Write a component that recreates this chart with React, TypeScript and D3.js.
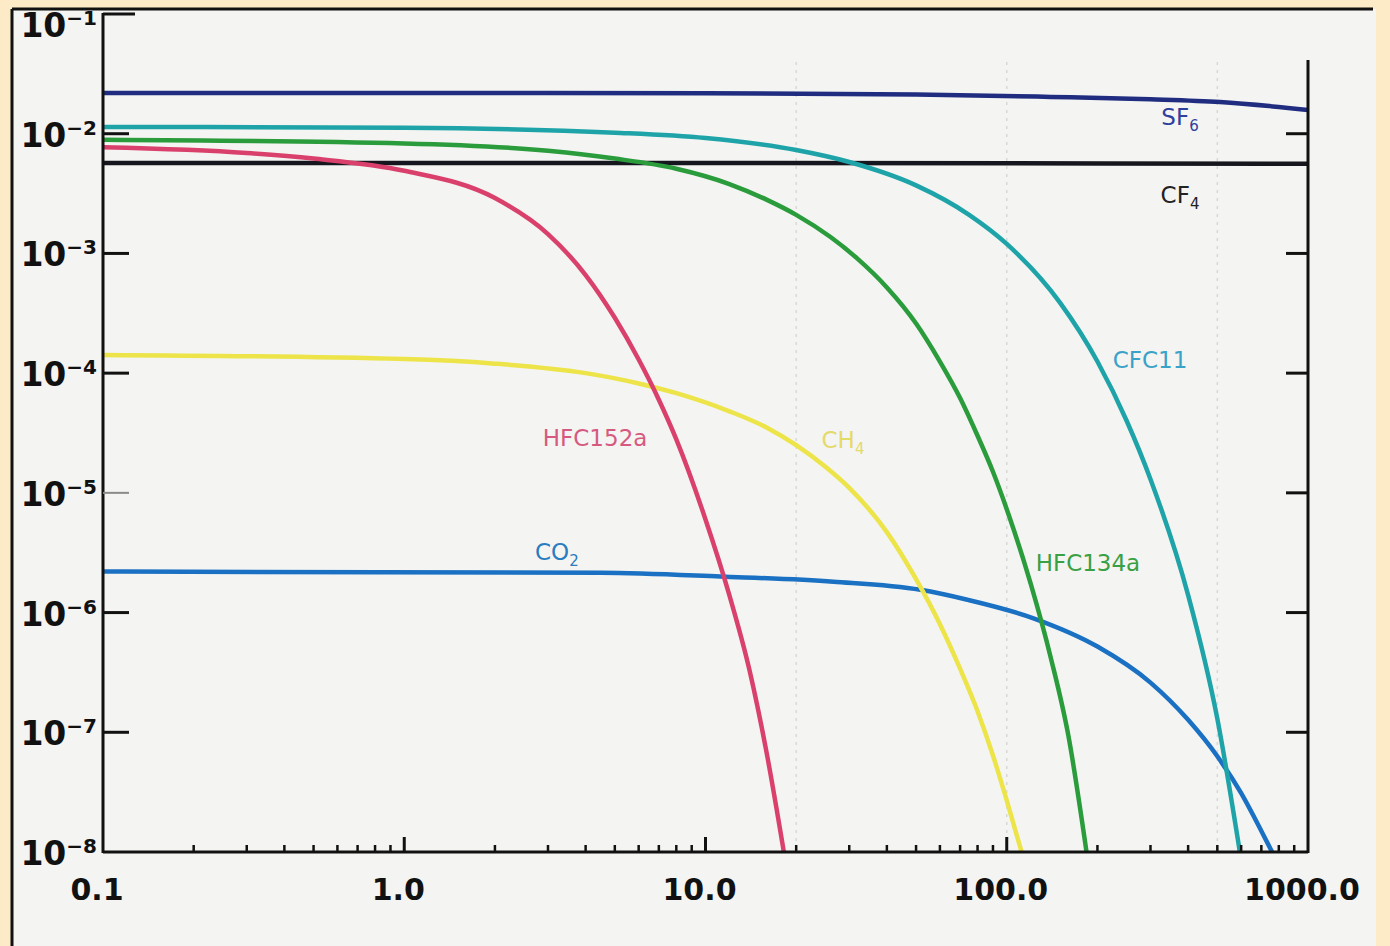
import * as d3 from "d3";
import React, { useEffect, useRef } from "react";

// axis ticks
const xTicks = [0.1, 1, 10, 100, 1000];
const xTickLabels = ["0.1", "1.0", "10.0", "100.0", "1000.0"];
const yTicks = [1e-1, 1e-2, 1e-3, 1e-4, 1e-5, 1e-6, 1e-7, 1e-8];
const yTickExp = ["−1", "−2", "−3", "−4", "−5", "−6", "−7", "−8"];
const faintGridX = [20, 100, 500];

// series values: [time, fraction remaining]
const sf6 = [[0.1, 0.0219], [1, 0.0219], [10, 0.0218], [50, 0.0213], [140, 0.0203], [300, 0.0194], [510, 0.0184], [1000, 0.0158]];
const cf4 = [[0.1, 0.0057], [10, 0.0057], [1000, 0.0056]];
const cfc11 = [[0.1, 0.0114], [1, 0.0112], [5, 0.0102], [10, 0.0092], [20, 0.0073], [30, 0.0058], [50, 0.0037], [75, 0.0021], [100, 0.0012], [150, 3.9e-4], [200, 1.25e-4], [250, 4e-5], [300, 1.3e-5], [400, 1.4e-6], [500, 1.3e-7], [594, 1e-8]];
const hfc134a = [[0.1, 0.0089], [1, 0.0083], [3, 0.0072], [5, 0.0062], [8, 0.0051], [12, 0.0038], [16, 0.0028], [20, 0.0021], [26, 0.00137], [32, 9e-4], [40, 5.2e-4], [50, 2.6e-4], [60, 1.25e-4], [70, 6.2e-5], [80, 3e-5], [90, 1.5e-5], [100, 7.3e-6], [120, 1.75e-6], [140, 4.2e-7], [160, 9.5e-8], [184, 1e-8]];
const hfc152a = [[0.1, 0.0077], [0.3, 0.0069], [0.5, 0.0062], [1, 0.0049], [2, 0.0029], [3, 0.00145], [4, 6.6e-4], [5, 2.9e-4], [6, 1.3e-4], [7, 6e-5], [8, 2.8e-5], [10, 6e-6], [12, 1.4e-6], [14, 3.3e-7], [16, 6.5e-8], [18.2, 1e-8]];
const ch4 = [[0.1, 1.42e-4], [1, 1.31e-4], [2, 1.2e-4], [4, 1.0e-4], [6, 8.2e-5], [8, 6.8e-5], [12, 4.8e-5], [16, 3.5e-5], [20, 2.5e-5], [25, 1.65e-5], [30, 1.1e-5], [40, 4.7e-6], [50, 1.9e-6], [60, 8e-7], [70, 3.4e-7], [80, 1.5e-7], [90, 6.4e-8], [100, 2.7e-8], [112, 1e-8]];
const co2 = [[0.1, 2.2e-6], [4.5, 2.15e-6], [11.2, 2.0e-6], [26.6, 1.81e-6], [51.7, 1.55e-6], [74, 1.28e-6], [122, 9e-7], [200, 5.2e-7], [300, 2.6e-7], [400, 1.27e-7], [500, 6.3e-8], [600, 3.1e-8], [700, 1.5e-8], [760, 1e-8]];

const series = [
  { name: "CF4", data: cf4, color: "#16161e" },
  { name: "SF6", data: sf6, color: "#1f2c80" },
  { name: "CO2", data: co2, color: "#1a70c2" },
  { name: "CH4", data: ch4, color: "#ece448" },
  { name: "HFC152a", data: hfc152a, color: "#d9416c" },
  { name: "HFC134a", data: hfc134a, color: "#2a9c3c" },
  { name: "CFC11", data: cfc11, color: "#1ea4a8" },
];

// label anchors (data coords) for the in-plot annotations
const labels = [
  { text: "SF", sub: "6", x: 376, y: 0.0138, color: "#2f3f9c" },
  { text: "CF", sub: "4", x: 376, y: 0.00308, color: "#222222" },
  { text: "CFC11", sub: "", x: 299, y: 1.29e-4, color: "#3aa2c8" },
  { text: "HFC152a", sub: "", x: 4.3, y: 2.87e-5, color: "#d65a80" },
  { text: "CH", sub: "4", x: 28.6, y: 2.76e-5, color: "#e4da6a" },
  { text: "CO", sub: "2", x: 3.21, y: 3.2e-6, color: "#2a7cc0" },
  { text: "HFC134a", sub: "", x: 186, y: 2.6e-6, color: "#3aa044" },
];

export default function App() {
  const svgRef = useRef<SVGSVGElement>(null);
  const W = 1390;
  const H = 946;

  useEffect(() => {
    document.body.style.margin = "0";
    const svg = d3.select(svgRef.current).attr("width", W).attr("height", H);
    svg.selectAll("*").remove();

    const left = 103, right = 1308, top = 14, bottom = 852;
    const x = d3.scaleLog().domain([0.1, 1000]).range([left, right]);
    const y = d3.scaleLog().domain([1e-8, 1e-1]).range([bottom, top]);
    const ink = "#111";

    // scanned page background + frame
    svg.append("rect").attr("width", W).attr("height", H).attr("fill", "#fcebc6");
    svg.append("rect").attr("x", 12).attr("y", 9).attr("width", 1364).attr("height", H - 9).attr("fill", "#f4f4f2");
    svg.append("line").attr("x1", 12).attr("x2", 1373).attr("y1", 9).attr("y2", 9).attr("stroke", ink).attr("stroke-width", 3);
    svg.append("line").attr("x1", 12).attr("x2", 12).attr("y1", 9).attr("y2", H).attr("stroke", ink).attr("stroke-width", 3);

    // faint vertical scan lines
    svg.append("g").selectAll("line")
      .data(faintGridX)
      .enter()
      .append("line")
      .attr("x1", (d) => x(d))
      .attr("x2", (d) => x(d))
      .attr("y1", 62)
      .attr("y2", bottom)
      .attr("stroke", "#d8d8d6")
      .attr("stroke-width", 1.5)
      .attr("stroke-dasharray", "3,5");

    // curves
    const clipId = "plot-clip";
    svg.append("clipPath").attr("id", clipId)
      .append("rect").attr("x", left).attr("y", top).attr("width", right - left).attr("height", bottom - top);

    const line = d3.line<number[]>()
      .x((d) => x(d[0]))
      .y((d) => y(d[1]))
      .curve(d3.curveMonotoneX);

    svg.append("g").attr("clip-path", `url(#${clipId})`)
      .selectAll("path")
      .data(series)
      .enter()
      .append("path")
      .attr("d", (d) => line(d.data))
      .attr("fill", "none")
      .attr("stroke", (d) => d.color)
      .attr("stroke-width", 4.5)
      .attr("stroke-linecap", "round");

    // axes lines
    const axes = svg.append("g").attr("stroke", ink).attr("stroke-width", 3);
    axes.append("line").attr("x1", left).attr("x2", left).attr("y1", top - 1).attr("y2", bottom + 1);
    axes.append("line").attr("x1", left).attr("x2", right).attr("y1", bottom).attr("y2", bottom);
    axes.append("line").attr("x1", right).attr("x2", right).attr("y1", 60).attr("y2", bottom + 1);

    // left ticks
    axes.selectAll(".ytl")
      .data(yTicks.slice(0, 7))
      .enter()
      .append("line")
      .attr("x1", left)
      .attr("x2", (d, i) => left + (i === 0 ? 32 : 26))
      .attr("y1", (d) => y(d))
      .attr("y2", (d) => y(d))
      .attr("stroke", (d, i) => (i === 4 ? "#8a8a8a" : ink))
      .attr("stroke-width", (d, i) => (i === 4 ? 2 : 3));

    // right ticks
    axes.selectAll(".ytr")
      .data(yTicks.slice(1, 7))
      .enter()
      .append("line")
      .attr("x1", right)
      .attr("x2", right - 22)
      .attr("y1", (d) => y(d))
      .attr("y2", (d) => y(d));

    // bottom ticks (minor + major)
    const minor: number[] = [];
    [0.1, 1, 10, 100].forEach((dec) => {
      for (let k = 2; k <= 9; k++) minor.push(dec * k);
    });
    axes.append("g").selectAll("line")
      .data(minor)
      .enter()
      .append("line")
      .attr("x1", (d) => x(d))
      .attr("x2", (d) => x(d))
      .attr("y1", bottom)
      .attr("y2", bottom - 7)
      .attr("stroke-width", 2.5);
    axes.append("g").selectAll("line")
      .data([1, 10, 100])
      .enter()
      .append("line")
      .attr("x1", (d) => x(d))
      .attr("x2", (d) => x(d))
      .attr("y1", bottom)
      .attr("y2", bottom - 15)
      .attr("stroke-width", 3);

    // y labels 10^-n
    const yl = svg.append("g")
      .attr("font-family", "DejaVu Sans, sans-serif")
      .attr("font-weight", "bold")
      .attr("fill", ink);
    yTicks.forEach((t, i) => {
      const base = Math.max(y(t) + 13, 37);
      const txt = yl.append("text")
        .attr("x", 97)
        .attr("y", base)
        .attr("text-anchor", "end");
      txt.append("tspan").attr("font-size", 33).text("10");
      txt.append("tspan").attr("font-size", 20).attr("dy", -12).text(yTickExp[i]);
    });

    // x labels
    svg.append("g")
      .attr("font-family", "DejaVu Sans, sans-serif")
      .attr("font-weight", "bold")
      .attr("font-size", 30)
      .attr("fill", ink)
      .selectAll("text")
      .data(xTicks)
      .enter()
      .append("text")
      .attr("x", (d) => x(d) - 6)
      .attr("y", 900)
      .attr("text-anchor", "middle")
      .text((d, i) => xTickLabels[i]);

    // series annotations
    const ann = svg.append("g")
      .attr("font-family", "DejaVu Sans, sans-serif")
      .attr("font-size", 23);
    labels.forEach((l) => {
      const t = ann.append("text")
        .attr("x", x(l.x))
        .attr("y", y(l.y) + 8)
        .attr("text-anchor", "middle")
        .attr("fill", l.color);
      t.append("tspan").text(l.text);
      if (l.sub) t.append("tspan").attr("font-size", 15).attr("dy", 6).text(l.sub);
    });
  }, []);

  return (
    <div style={{ position: "absolute", left: 0, top: 0 }}>
      <svg ref={svgRef} style={{ display: "block" }}></svg>
    </div>
  );
}
